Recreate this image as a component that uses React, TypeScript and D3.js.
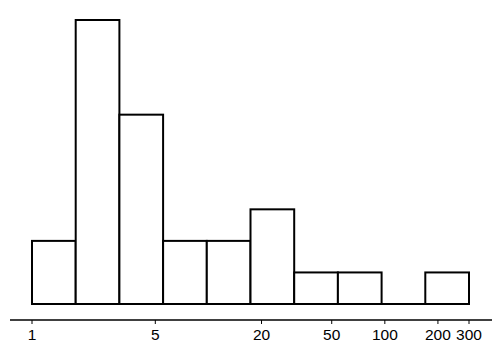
import React from "react";
import * as d3 from "d3";

const binCounts = [2, 9, 6, 2, 2, 3, 1, 1, 0, 1];
const tickValues = [1, 5, 20, 50, 100, 200, 300];
const domainMin = 1;
const domainMax = 300;

export default function App() {
  const width = 500;
  const height = 350;
  const x = d3.scaleLog().domain([domainMin, domainMax]).range([32, 469]);
  const y = d3.scaleLinear().domain([0, 9]).range([304, 20]);
  const nBins = binCounts.length;
  const logMin = Math.log10(domainMin);
  const logMax = Math.log10(domainMax);
  const edges = d3.range(nBins + 1).map((i) => Math.pow(10, logMin + ((logMax - logMin) * i) / nBins));

  return (
    <svg width={width} height={height} style={{ position: "absolute", left: 0, top: 0 }}>
      <rect width={width} height={height} fill="white" />
      {binCounts.map((c, i) => {
        const x0 = x(edges[i]);
        const x1 = x(edges[i + 1]);
        if (c === 0) {
          return <line key={i} x1={x0} x2={x1} y1={y(0)} y2={y(0)} stroke="black" strokeWidth={2} />;
        }
        return (
          <rect key={i} x={x0} y={y(c)} width={x1 - x0} height={y(0) - y(c)} fill="white" stroke="black" strokeWidth={2} />
        );
      })}
      <line x1={10} x2={492} y1={320} y2={320} stroke="black" strokeWidth={1.5} />
      {tickValues.map((t) => (
        <g key={t}>
          <line x1={x(t)} x2={x(t)} y1={320} y2={324} stroke="black" strokeWidth={1} />
          <text x={x(t)} y={340} textAnchor="middle" fontFamily="Liberation Sans, Arial, sans-serif" fontSize={15.5} fill="black">
            {t}
          </text>
        </g>
      ))}
    </svg>
  );
}
